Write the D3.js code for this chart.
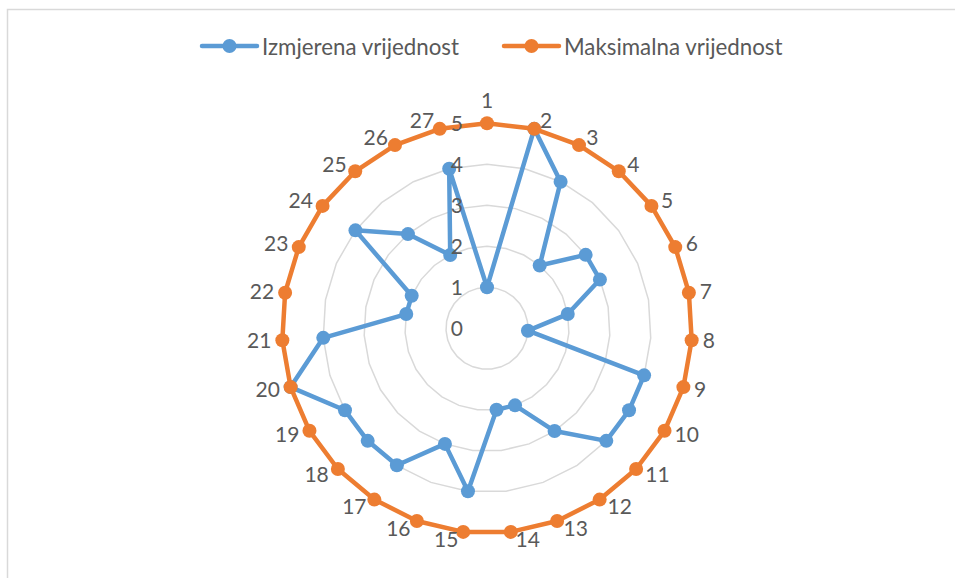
<!DOCTYPE html>
<html>
<head>
<meta charset="utf-8">
<script src="https://cdn.jsdelivr.net/npm/d3@7"></script>
<style>
  html, body { margin: 0; padding: 0; background: #fff; }
  svg { display: block; font-family: Lato, "Open Sans", sans-serif; }
</style>
</head>
<body>
<svg id="chart" width="955" height="578"></svg>
<script>
// data
const categories = ["1", "2", "3", "4", "5", "6", "7", "8", "9", "10", "11", "12", "13", "14",
  "15", "16", "17", "18", "19", "20", "21", "22", "23", "24", "25", "26", "27"];
const izmjerena = [1, 5, 4, 2, 3, 3, 2, 1, 4, 4, 4, 3, 2, 2, 4, 3, 4, 4, 4, 5, 4, 2, 2, 4, 3, 2, 4];
const maksimalna = [5, 5, 5, 5, 5, 5, 5, 5, 5, 5, 5, 5, 5, 5, 5, 5, 5, 5, 5, 5, 5, 5, 5, 5, 5, 5, 5];
const tickValues = [0, 1, 2, 3, 4, 5];
const seriesNames = ["Izmjerena vrijednost", "Maksimalna vrijednost"];
const seriesColors = ["#5b9bd5", "#ed7d31"];

const cx = 487, cy = 328.3;
const radius = 205;
const textColor = "#595959";

const svg = d3.select("#chart");

svg.append("rect")
  .attr("width", 955).attr("height", 578)
  .attr("fill", "#fff");

// chart area border
svg.append("rect")
  .attr("x", 7.5).attr("y", 9.5)
  .attr("width", 980).attr("height", 620)
  .attr("fill", "none")
  .attr("stroke", "#d9d9d9")
  .attr("stroke-width", 1.5);

const r = d3.scaleLinear().domain([0, 5]).range([0, radius]);
const angle = d3.scaleLinear()
  .domain([0, categories.length])
  .range([0, 2 * Math.PI]);

const g = svg.append("g").attr("transform", `translate(${cx}, ${cy})`);

// gridlines (polygons)
const gridLine = d3.lineRadial()
  .angle((d, i) => angle(i))
  .radius(d => r(d))
  .curve(d3.curveLinearClosed);

g.append("g")
  .selectAll("path")
  .data(tickValues.filter(t => t > 0))
  .join("path")
  .attr("d", t => gridLine(categories.map(() => t)))
  .attr("fill", "none")
  .attr("stroke", "#d9d9d9")
  .attr("stroke-width", 1.5);

// series
const seriesLine = d3.lineRadial()
  .angle((d, i) => angle(i))
  .radius(d => r(d))
  .curve(d3.curveLinearClosed);

[izmjerena, maksimalna].forEach((values, si) => {
  const sg = g.append("g");
  sg.append("path")
    .attr("d", seriesLine(values))
    .attr("fill", "none")
    .attr("stroke", seriesColors[si])
    .attr("stroke-width", 4.5)
    .attr("stroke-linejoin", "round");
  sg.selectAll("circle")
    .data(values)
    .join("circle")
    .attr("cx", (d, i) => r(d) * Math.sin(angle(i)))
    .attr("cy", (d, i) => -r(d) * Math.cos(angle(i)))
    .attr("r", 7)
    .attr("fill", seriesColors[si]);
});

// value axis labels
g.append("g")
  .selectAll("text")
  .data(tickValues)
  .join("text")
  .attr("x", -24)
  .attr("y", d => -r(d))
  .attr("dy", "0.35em")
  .attr("text-anchor", "end")
  .attr("font-size", 21)
  .attr("fill", textColor)
  .text(d => d);

// category labels
g.append("g")
  .selectAll("text")
  .data(categories)
  .join("text")
  .each(function (d, i) {
    const a = angle(i);
    const s = Math.sin(a), c = Math.cos(a);
    const top = Math.abs(s) < 1e-6;
    d3.select(this)
      .attr("x", 212 * s + (top ? 0 : Math.sign(s) * 4))
      .attr("y", -213 * c - (top ? 15 : 0))
      .attr("text-anchor", top ? "middle" : (s > 0 ? "start" : "end"));
  })
  .attr("dy", "0.35em")
  .attr("font-size", 21)
  .attr("fill", textColor)
  .text(d => d);

// legend
const legendX = [202, 504];
const legend = svg.append("g");
seriesNames.forEach((name, i) => {
  const lg = legend.append("g").attr("transform", `translate(${legendX[i]}, 46)`);
  lg.append("line")
    .attr("x1", 0).attr("x2", 55)
    .attr("stroke", seriesColors[i])
    .attr("stroke-width", 4.5)
    .attr("stroke-linecap", "round");
  lg.append("circle")
    .attr("cx", 27.5).attr("r", 7)
    .attr("fill", seriesColors[i]);
  lg.append("text")
    .attr("x", 60)
    .attr("y", 1.5)
    .attr("dy", "0.35em")
    .attr("font-size", 22.3)
    .attr("fill", textColor)
    .text(name);
});
</script>
</body>
</html>
